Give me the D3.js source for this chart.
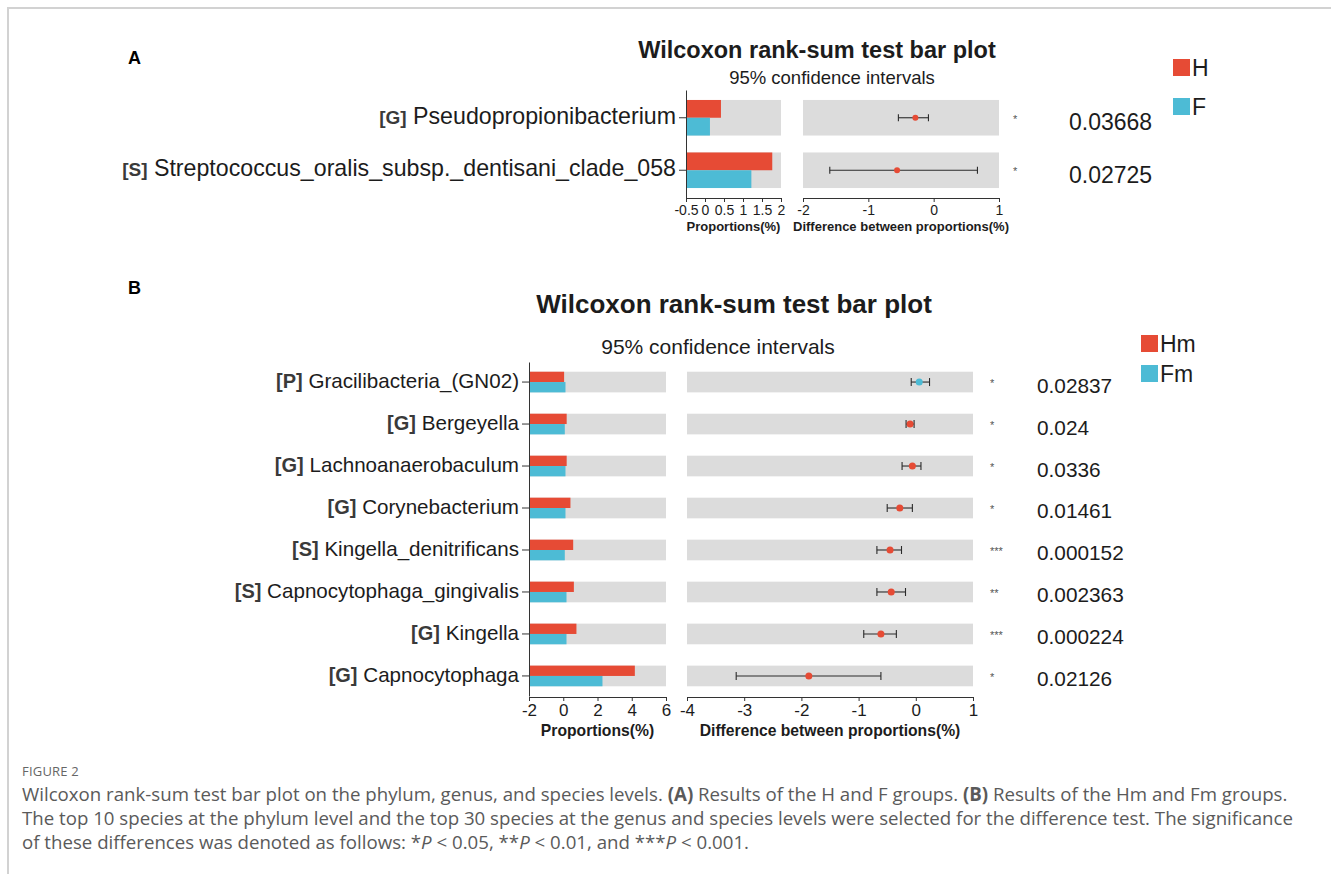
<!DOCTYPE html>
<html>
<head>
<meta charset="utf-8">
<script src="https://cdn.jsdelivr.net/npm/d3@7"></script>
<style>
  body { margin: 0; background: #fff; }
  svg { display: block; }
</style>
</head>
<body>
<svg id="fig" width="1331" height="874"></svg>
<script>
// ---------- Panel A: H vs F ----------
const groupsA = ["H", "F"];
const levelsA = ["G", "S"];
const taxaA = ["Pseudopropionibacterium", "Streptococcus_oralis_subsp._dentisani_clade_058"];
const meanHA = [0.42, 1.77];
const meanFA = [0.13, 1.22];
const diffA = [-0.28, -0.56];
const ciLowA = [-0.54, -1.59];
const ciHighA = [-0.08, 0.67];
const starsA = ["*", "*"];
const pValuesA = ["0.03668", "0.02725"];
const propTicksA = [-0.5, 0, 0.5, 1, 1.5, 2];
const diffTicksA = [-2, -1, 0, 1];

// ---------- Panel B: Hm vs Fm ----------
const groupsB = ["Hm", "Fm"];
const levelsB = ["P", "G", "G", "G", "S", "S", "G", "G"];
const taxaB = ["Gracilibacteria_(GN02)", "Bergeyella", "Lachnoanaerobaculum", "Corynebacterium",
               "Kingella_denitrificans", "Capnocytophaga_gingivalis", "Kingella", "Capnocytophaga"];
const meanHB = [0.05, 0.20, 0.20, 0.42, 0.58, 0.62, 0.77, 4.18];
const meanFB = [0.13, 0.09, 0.13, 0.13, 0.09, 0.19, 0.19, 2.29];
const diffB = [0.06, -0.10, -0.06, -0.28, -0.45, -0.43, -0.61, -1.87];
const ciLowB = [-0.08, -0.17, -0.24, -0.50, -0.68, -0.68, -0.91, -3.14];
const ciHighB = [0.24, -0.03, 0.09, -0.06, -0.25, -0.18, -0.34, -0.61];
const starsB = ["*", "*", "*", "*", "***", "**", "***", "*"];
const pValuesB = ["0.02837", "0.024", "0.0336", "0.01461", "0.000152", "0.002363", "0.000224", "0.02126"];
const propTicksB = [-2, 0, 2, 4, 6];
const diffTicksB = [-4, -3, -2, -1, 0, 1];

const titleText = "Wilcoxon rank-sum test bar plot";
const subtitleText = "95% confidence intervals";
const propTitle = "Proportions(%)";
const diffTitle = "Difference between proportions(%)";

const RED = "#e64b35", BLUE = "#4dbbd5", BAND = "#dcdcdc", INK = "#1c1c1c", AXIS = "#333";
const FONT = "'Liberation Sans', Arial, sans-serif";
const CAPFONT = "'Open Sans', 'Noto Sans', sans-serif";

const svg = d3.select("#fig");

// card frame: top and left rules
svg.append("path")
  .attr("d", "M8,874V8H1331")
  .attr("fill", "none").attr("stroke", "#d2d2d2").attr("stroke-width", 2);

function drawPanel(p) {
  const rows = p.taxa.map((t, i) => ({
    level: p.levels[i], taxon: t, h: p.meanH[i], f: p.meanF[i],
    diff: p.diff[i], lo: p.ciLow[i], hi: p.ciHigh[i], star: p.stars[i], pv: p.pValues[i]
  }));

  const y = d3.scaleBand().domain(p.taxa).range(p.yRange)
    .paddingInner(p.padIn).paddingOuter(p.padOut);
  const xp = d3.scaleLinear().domain(d3.extent(p.propTicks)).range(p.propRange);
  const xd = d3.scaleLinear().domain(d3.extent(p.diffTicks)).range(p.diffRange);
  const bw = y.bandwidth(), half = bw / 2;
  const mid = d => y(d.taxon) + half;
  const x0 = xp.domain()[0];

  const g = svg.append("g").attr("font-family", FONT);

  // panel letter and titles
  g.append("text").attr("x", p.letterX).attr("y", p.letterY)
    .attr("font-size", 18).attr("font-weight", "bold").attr("fill", "#000").text(p.letter);
  g.append("text").attr("x", p.titleX).attr("y", p.titleY).attr("text-anchor", "middle")
    .attr("font-size", p.titleSize).attr("font-weight", "bold").attr("fill", INK).text(titleText);
  g.append("text").attr("x", p.subX).attr("y", p.subY).attr("text-anchor", "middle")
    .attr("font-size", p.subSize).attr("fill", INK).text(subtitleText);

  // proportion panel: grey bands then paired bars
  g.append("g").selectAll("rect").data(rows).join("rect")
    .attr("x", xp.range()[0]).attr("y", d => y(d.taxon))
    .attr("width", xp.range()[1] - xp.range()[0]).attr("height", bw).attr("fill", BAND);
  g.append("g").selectAll("rect").data(rows).join("rect")
    .attr("x", xp(x0)).attr("y", d => y(d.taxon))
    .attr("width", d => xp(d.h) - xp(x0)).attr("height", half).attr("fill", RED);
  g.append("g").selectAll("rect").data(rows).join("rect")
    .attr("x", xp(x0)).attr("y", d => y(d.taxon) + half)
    .attr("width", d => xp(d.f) - xp(x0)).attr("height", half).attr("fill", BLUE);

  // difference panel: grey bands, CI whiskers, points
  g.append("g").selectAll("rect").data(rows).join("rect")
    .attr("x", xd.range()[0]).attr("y", d => y(d.taxon))
    .attr("width", xd.range()[1] - xd.range()[0]).attr("height", bw).attr("fill", BAND);
  const ci = g.append("g").attr("stroke", "#2b2b2b").attr("stroke-width", 1.1);
  ci.selectAll("line.ci").data(rows).join("line").attr("class", "ci")
    .attr("x1", d => xd(d.lo)).attr("x2", d => xd(d.hi)).attr("y1", mid).attr("y2", mid);
  ci.selectAll("line.lo").data(rows).join("line").attr("class", "lo")
    .attr("x1", d => xd(d.lo)).attr("x2", d => xd(d.lo))
    .attr("y1", d => mid(d) - p.cap).attr("y2", d => mid(d) + p.cap);
  ci.selectAll("line.hi").data(rows).join("line").attr("class", "hi")
    .attr("x1", d => xd(d.hi)).attr("x2", d => xd(d.hi))
    .attr("y1", d => mid(d) - p.cap).attr("y2", d => mid(d) + p.cap);
  g.append("g").selectAll("circle").data(rows).join("circle")
    .attr("cx", d => xd(d.diff)).attr("cy", mid).attr("r", p.dotR)
    .attr("fill", d => d.diff > 0 ? BLUE : RED);

  // left axis with taxon labels
  const ya = g.append("g").attr("transform", `translate(${xp.range()[0]},0)`)
    .call(d3.axisLeft(y).tickSize(7).tickSizeOuter(0).tickFormat(() => ""));
  ya.selectAll("path,line").attr("stroke", AXIS);
  const lab = g.append("g").selectAll("text").data(rows).join("text")
    .attr("x", xp.range()[0] - 10).attr("y", mid).attr("dy", "0.36em")
    .attr("text-anchor", "end");
  lab.append("tspan").attr("font-weight", "bold").attr("fill", "#3a3a3a")
    .attr("font-size", p.prefixSize).text(d => `[${d.level}]`);
  lab.append("tspan").attr("fill", INK).attr("font-size", p.nameSize).text(d => " " + d.taxon);

  // bottom axes
  const styleAxis = (sel) => {
    sel.attr("font-family", FONT).attr("font-size", p.tickSize);
    sel.selectAll("path,line").attr("stroke", AXIS);
    sel.selectAll("text").attr("fill", INK);
  };
  g.append("g").attr("transform", `translate(0,${p.axisY})`)
    .call(d3.axisBottom(xp).tickValues(p.propTicks).tickSize(4).tickPadding(3)
      .tickSizeOuter(0).tickFormat(d => String(d)))
    .call(styleAxis);
  g.append("g").attr("transform", `translate(0,${p.axisY})`)
    .call(d3.axisBottom(xd).tickValues(p.diffTicks).tickSize(4).tickPadding(3)
      .tickSizeOuter(0).tickFormat(d => String(d)))
    .call(styleAxis);

  g.append("text").attr("x", (xp.range()[0] + xp.range()[1]) / 2).attr("y", p.axisTitleY)
    .attr("text-anchor", "middle").attr("font-size", p.axisTitleSize).attr("font-weight", "bold")
    .attr("fill", INK).text(propTitle);
  g.append("text").attr("x", (xd.range()[0] + xd.range()[1]) / 2).attr("y", p.axisTitleY)
    .attr("text-anchor", "middle").attr("font-size", p.axisTitleSize).attr("font-weight", "bold")
    .attr("fill", INK).text(diffTitle);

  // significance stars and p-values
  g.append("g").selectAll("text").data(rows).join("text")
    .attr("x", p.starX).attr("y", d => mid(d) + 5).attr("font-size", 11).attr("fill", "#555")
    .text(d => d.star);
  g.append("g").selectAll("text").data(rows).join("text")
    .attr("x", p.pX).attr("y", d => mid(d) + p.pShift).attr("dy", "0.36em")
    .attr("font-size", p.pSize).attr("fill", INK).text(d => d.pv);

  // legend
  const lg = g.append("g").selectAll("g").data(p.groups).join("g")
    .attr("transform", (d, i) => `translate(${p.legendX},${p.legendY + i * p.legendStep})`);
  lg.append("rect").attr("width", 17).attr("height", 17).attr("fill", (d, i) => i === 0 ? RED : BLUE);
  lg.append("text").attr("x", 19).attr("y", 8.5).attr("dy", "0.36em")
    .attr("font-size", p.legendSize).attr("fill", INK).text(d => d);
}

drawPanel({
  letter: "A", letterX: 128, letterY: 64,
  titleX: 817, titleY: 58, titleSize: 23.5,
  subX: 832, subY: 84, subSize: 18.5,
  groups: groupsA, levels: levelsA, taxa: taxaA, meanH: meanHA, meanF: meanFA,
  diff: diffA, ciLow: ciLowA, ciHigh: ciHighA, stars: starsA, pValues: pValuesA,
  propTicks: propTicksA, diffTicks: diffTicksA,
  yRange: [90, 198], padIn: 0.3226, padOut: 0.19,
  propRange: [686, 781], diffRange: [803, 999], axisY: 198,
  tickSize: 14, axisTitleY: 230.5, axisTitleSize: 13,
  prefixSize: 19, nameSize: 23.2,
  cap: 3.5, dotR: 3,
  starX: 1013, pX: 1069, pSize: 23, pShift: 4,
  legendX: 1173, legendY: 59, legendStep: 39, legendSize: 23
});

drawPanel({
  letter: "B", letterX: 128, letterY: 294,
  titleX: 734, titleY: 313, titleSize: 26,
  subX: 718, subY: 354, subSize: 21,
  groups: groupsB, levels: levelsB, taxa: taxaB, meanH: meanHB, meanF: meanFB,
  diff: diffB, ciLow: ciLowB, ciHigh: ciHighB, stars: starsB, pValues: pValuesB,
  propTicks: propTicksB, diffTicks: diffTicksB,
  yRange: [362, 696], padIn: 0.508, padOut: 0.2315,
  propRange: [529, 666], diffRange: [687, 973], axisY: 697,
  tickSize: 17, axisTitleY: 735.5, axisTitleSize: 15.7,
  prefixSize: 20, nameSize: 20.6,
  cap: 4, dotR: 3.5,
  starX: 990, pX: 1037, pSize: 20.8, pShift: 3,
  legendX: 1141, legendY: 335, legendStep: 30, legendSize: 23
});

// ---------- Figure caption ----------
const cap = svg.append("g").attr("font-family", CAPFONT).attr("fill", "#5a5a5a");
cap.append("text").attr("x", 22).attr("y", 776).attr("font-size", 13)
  .attr("fill", "#666").attr("letter-spacing", 0.2).text("FIGURE 2");

const captionLines = [
  [["Wilcoxon rank-sum test bar plot on the phylum, genus, and species levels. ", ""], ["(A)", "b"],
   [" Results of the H and F groups. ", ""], ["(B)", "b"], [" Results of the Hm and Fm groups.", ""]],
  [["The top 10 species at the phylum level and the top 30 species at the genus and species levels were selected for the difference test. The significance", ""]],
  [["of these differences was denoted as follows: *", ""], ["P", "i"], [" < 0.05, **", ""], ["P", "i"],
   [" < 0.01, and ***", ""], ["P", "i"], [" < 0.001.", ""]]
];
const capText = cap.selectAll("text.line").data(captionLines).join("text").attr("class", "line")
  .attr("x", 22).attr("y", (d, i) => 801 + i * 24).attr("font-size", 16);
capText.selectAll("tspan").data(d => d).join("tspan")
  .attr("font-weight", d => d[1] === "b" ? "bold" : null)
  .attr("font-style", d => d[1] === "i" ? "italic" : null)
  .text(d => d[0]);
// scale the caption so the first line spans the text column
const firstLen = capText.node().getComputedTextLength();
const capSize = 16 * 1266 / firstLen;
capText.attr("font-size", capSize);
</script>
</body>
</html>
